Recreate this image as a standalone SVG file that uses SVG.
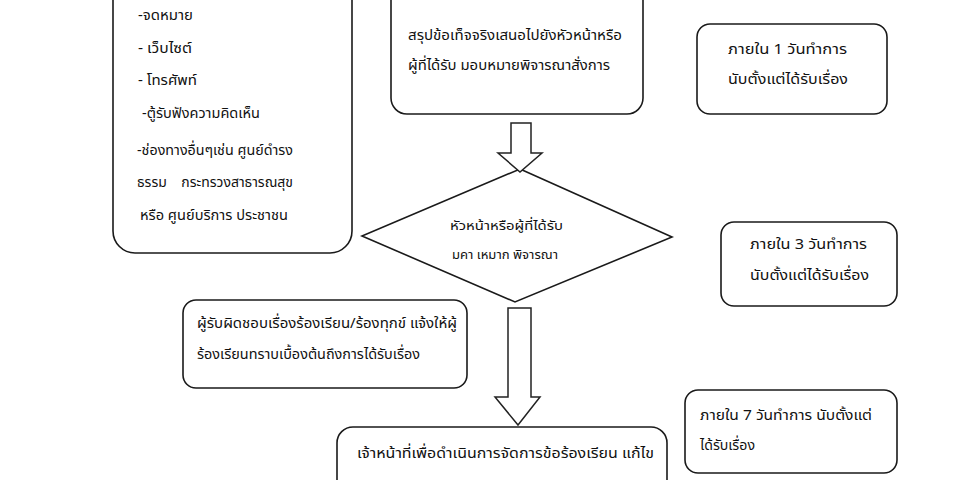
<svg xmlns="http://www.w3.org/2000/svg" width="960" height="480" viewBox="0 0 960 480">
<style>
.box{fill:#fff;stroke:#1a1a1a;stroke-width:1.6}
.arrow{fill:#fff;stroke:#222;stroke-width:1.5;stroke-linejoin:miter}
text{font-family:"Noto Sans Thai","Noto Sans","DejaVu Sans",sans-serif;font-size:14.5px;fill:#111}
</style>
<rect width="960" height="480" fill="#fff"/>
<g id="channels">
<rect class="box" x="113" y="-30" width="239" height="283" rx="22"/>
<text x="138" y="20" textLength="55" lengthAdjust="spacingAndGlyphs">-จดหมาย</text>
<text x="138" y="53" textLength="54" lengthAdjust="spacingAndGlyphs">- เว็บไซต์</text>
<text x="138" y="85" textLength="59" lengthAdjust="spacingAndGlyphs">- โทรศัพท์</text>
<text x="142" y="118" textLength="118" lengthAdjust="spacingAndGlyphs">-ตู้รับฟังความคิดเห็น</text>
<text x="137" y="155" textLength="156" lengthAdjust="spacingAndGlyphs">-ช่องทางอื่นๆเช่น ศูนย์ดำรง</text>
<text x="137" y="187" textLength="156" lengthAdjust="spacingAndGlyphs">ธรรม&#160;&#160;&#160; กระทรวงสาธารณสุข</text>
<text x="140" y="220" textLength="148" lengthAdjust="spacingAndGlyphs">หรือ ศูนย์บริการ ประชาชน</text>
</g>
<g id="summary">
<rect class="box" x="391" y="-20" width="252" height="134" rx="16"/>
<text x="408" y="40" textLength="214" lengthAdjust="spacingAndGlyphs">สรุปข้อเท็จจริงเสนอไปยังหัวหน้าหรือ</text>
<text x="408" y="70" textLength="202" lengthAdjust="spacingAndGlyphs">ผู้ที่ได้รับ มอบหมายพิจารณาสั่งการ</text>
</g>
<g id="time1">
<rect class="box" x="697" y="24" width="190" height="90" rx="13"/>
<text x="728" y="54" textLength="119" lengthAdjust="spacingAndGlyphs">ภายใน 1 วันทำการ</text>
<text x="728" y="84" textLength="120" lengthAdjust="spacingAndGlyphs">นับตั้งแต่ได้รับเรื่อง</text>
</g>
<g id="decision">
<polygon class="box" points="520,169 672,237 515,302 362,236"/>
<text x="450" y="230" textLength="113" lengthAdjust="spacingAndGlyphs" style="font-size:13px">หัวหน้าหรือผู้ที่ได้รับ</text>
<text x="452" y="259" textLength="106" lengthAdjust="spacingAndGlyphs" style="font-size:12px">มคา เหมาก พิจารณา</text>
</g>
<g id="time3">
<rect class="box" x="721" y="222" width="176" height="84" rx="13"/>
<text x="750" y="249" textLength="117" lengthAdjust="spacingAndGlyphs">ภายใน 3 วันทำการ</text>
<text x="750" y="280" textLength="119" lengthAdjust="spacingAndGlyphs">นับตั้งแต่ได้รับเรื่อง</text>
</g>
<g id="notify">
<rect class="box" x="183" y="300" width="284" height="88" rx="13"/>
<text x="197" y="328" textLength="260" lengthAdjust="spacingAndGlyphs">ผู้รับผิดชอบเรื่องร้องเรียน/ร้องทุกข์ แจ้งให้ผู้</text>
<text x="197" y="359" textLength="223" lengthAdjust="spacingAndGlyphs">ร้องเรียนทราบเบื้องต้นถึงการได้รับเรื่อง</text>
</g>
<g id="time7">
<rect class="box" x="685" y="390" width="212" height="83" rx="13"/>
<text x="700" y="420" textLength="172" lengthAdjust="spacingAndGlyphs">ภายใน 7 วันทำการ นับตั้งแต่</text>
<text x="700" y="450" textLength="55" lengthAdjust="spacingAndGlyphs">ได้รับเรื่อง</text>
</g>
<g id="action">
<rect class="box" x="337" y="427" width="330" height="90" rx="16"/>
<text x="357" y="458" textLength="297" lengthAdjust="spacingAndGlyphs">เจ้าหน้าที่เพื่อดำเนินการจัดการข้อร้องเรียน แก้ไข</text>
</g>
<g id="connectors">
<polygon class="arrow" points="511,123 531,123 531,153 542,153 520,172 498,153 511,153"/>
<polygon class="arrow" points="508,308 531,308 531,397 540,397 518,425 495,397 508,397"/>
</g>
</svg>
